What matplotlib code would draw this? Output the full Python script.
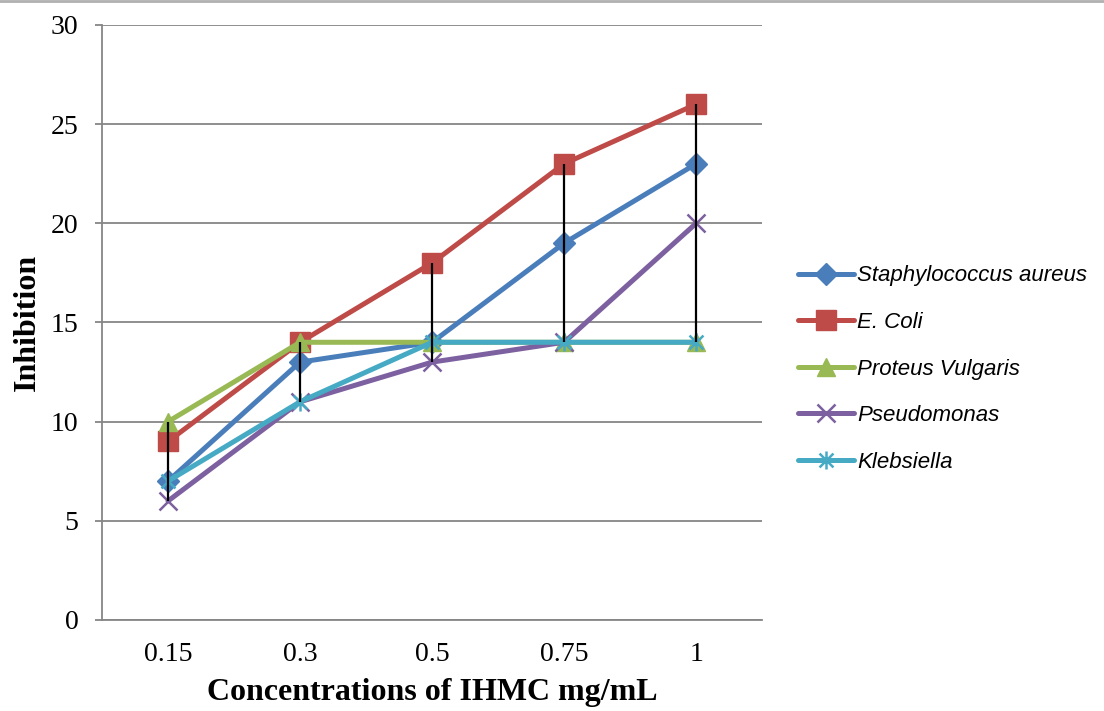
import matplotlib.pyplot as plt
import numpy as np
from matplotlib.path import Path
from matplotlib.lines import Line2D

concentrations = ["0.15", "0.3", "0.5", "0.75", "1"]
staph = [7, 13, 14, 19, 23]
ecoli = [9, 14, 18, 23, 26]
proteus = [10, 14, 14, 14, 14]
pseudomonas = [6, 11, 13, 14, 20]
klebsiella = [7, 11, 14, 14, 14]

names = ["Staphylococcus aureus", "E. Coli", "Proteus Vulgaris", "Pseudomonas", "Klebsiella"]
series = [staph, ecoli, proteus, pseudomonas, klebsiella]
colors = ["#4A7EBB", "#BE4B48", "#98B954", "#7D60A0", "#46AAC5"]

# excel-style star: x with a vertical bar
star = Path([(-1, -1), (1, 1), (-1, 1), (1, -1), (0, -1.3), (0, 1.3)],
            [Path.MOVETO, Path.LINETO, Path.MOVETO, Path.LINETO, Path.MOVETO, Path.LINETO])
markers = ["D", "s", "^", "x", star]
msizes = [11, 14, 13, 13, 13]
mews = [1, 1, 1, 1.8, 1.8]

fig = plt.figure(figsize=(11.04, 7.11), dpi=100)
ax = fig.add_axes([0.0924, 0.128, 0.598, 0.837])

x = np.arange(len(concentrations))
for vals, name, c, m, ms, mew in zip(series, names, colors, markers, msizes, mews):
    ax.plot(x, vals, color=c, lw=3.6, marker=m, ms=ms, mew=mew, mec=c, mfc=c,
            label=name, zorder=3, solid_capstyle="round")

# high-low lines
arr = np.array(series)
ax.vlines(x, arr.min(axis=0), arr.max(axis=0), color="black", lw=1.6, zorder=4)

ax.set_xlim(-0.5, len(x) - 0.5)
ax.set_ylim(0, 30)
ax.set_yticks(range(0, 31, 5))
ax.set_xticks(x)
ax.set_xticklabels(concentrations)
ax.yaxis.grid(True, color="#868686", lw=1.3)
ax.set_axisbelow(True)
for s in ["top", "right"]:
    ax.spines[s].set_visible(False)
for s in ["left", "bottom"]:
    ax.spines[s].set_color("#868686")
    ax.spines[s].set_linewidth(1.3)
ax.tick_params(axis="y", length=5, width=1.3, color="#868686", pad=12,
               labelsize=20, labelfontfamily="Liberation Serif")
ax.tick_params(axis="x", length=0, pad=16, labelsize=20, labelfontfamily="Liberation Serif")

ax.set_xlabel("Concentrations of IHMC mg/mL", fontsize=23, fontweight="bold",
              family="Liberation Serif", labelpad=8)
ax.set_ylabel("Inhibition", fontsize=23, fontweight="bold",
              family="Liberation Serif", labelpad=6)

leg = fig.legend(loc="center left", bbox_to_anchor=(0.705, 0.481), frameon=False,
                 prop={"family": "Liberation Sans", "style": "italic", "size": 16},
                 handlelength=2.5, handletextpad=0.15, labelspacing=1.15)

# thin border line at the top of the image
fig.add_artist(Line2D([0, 1], [0.999, 0.999], color="#b0b0b0", lw=2, transform=fig.transFigure))

fig.savefig("out.png", dpi=100)
